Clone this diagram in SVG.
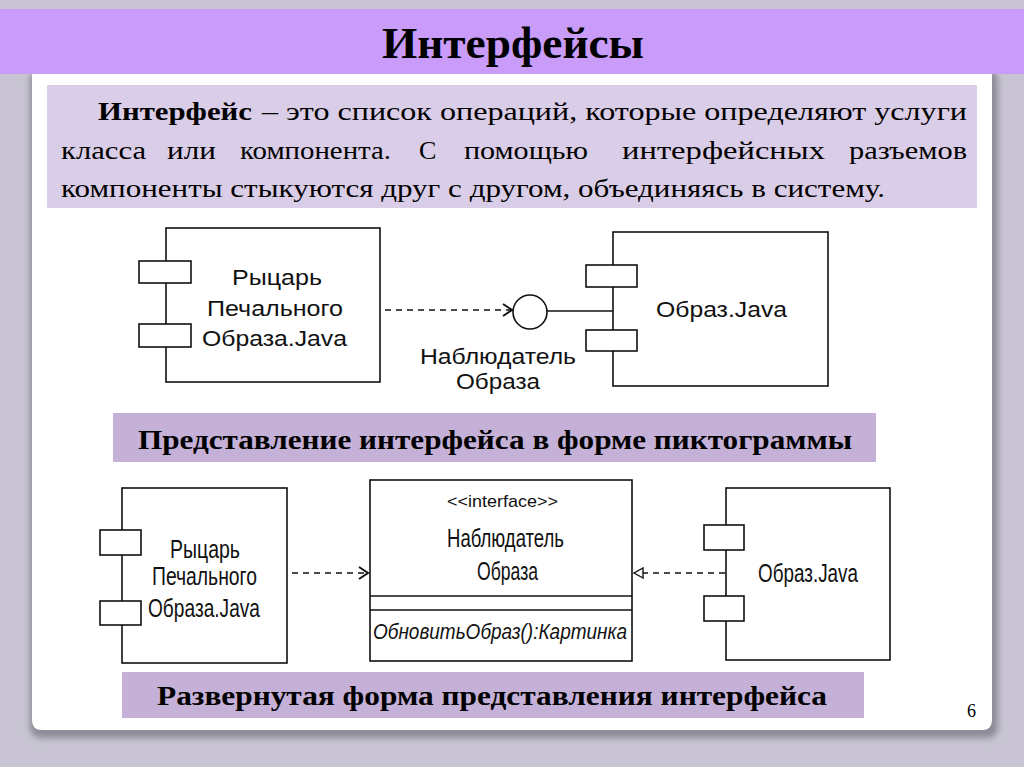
<svg xmlns="http://www.w3.org/2000/svg" width="1024" height="767" viewBox="0 0 1024 767">
<style>
.box{fill:#fff;stroke:#111;stroke-width:1.6}
.tab{fill:#fff;stroke:#111;stroke-width:1.6}
.sans{font-family:"Liberation Sans",Arial,sans-serif;fill:#111}
.serif{font-family:"Liberation Serif","Times New Roman",serif;fill:#000}
.dash{stroke:#111;stroke-width:1.6;stroke-dasharray:6,5;fill:none}
.line{stroke:#111;stroke-width:1.6;fill:none}
</style>
<defs>
<marker id="open" markerUnits="userSpaceOnUse" markerWidth="12" markerHeight="14" refX="10" refY="7" orient="auto">
<path d="M1,1 L10,7 L1,13" fill="none" stroke="#111" stroke-width="2"/>
</marker>
<marker id="tri" markerUnits="userSpaceOnUse" markerWidth="12" markerHeight="12" refX="10" refY="6" orient="auto">
<path d="M1,1 L10,6 L1,11 Z" fill="#fff" stroke="#111" stroke-width="1.4"/>
</marker>
<filter id="sh" x="-5%" y="-5%" width="110%" height="115%">
<feGaussianBlur stdDeviation="3"/>
</filter>
</defs>

<!-- background -->
<rect x="0" y="0" width="1024" height="767" fill="#c8c4d3"/>
<rect x="30" y="70" width="968" height="668" rx="10" fill="#8e8a98" filter="url(#sh)"/>
<path d="M32,74 H992 V720 Q992,730 982,730 H42 Q32,730 32,720 Z" fill="#fff"/>
<rect x="0" y="9" width="1024" height="65" fill="#c99cf9"/>
<text class="serif" x="382" y="58" font-size="44" font-weight="bold" textLength="262" lengthAdjust="spacingAndGlyphs">Интерфейсы</text>

<!-- definition box -->
<rect x="47" y="85" width="930" height="123" fill="#dacde7"/>
<text class="serif" y="120" font-size="26"><tspan x="98" font-weight="bold" textLength="154" lengthAdjust="spacingAndGlyphs">Интерфейс</tspan></text>
<text class="serif" x="262" y="120" font-size="26" textLength="705" lengthAdjust="spacingAndGlyphs">– это список операций, которые определяют услуги</text>
<text class="serif" y="159" font-size="26"><tspan x="61" textLength="85" lengthAdjust="spacingAndGlyphs">класса</tspan><tspan x="167" textLength="49" lengthAdjust="spacingAndGlyphs">или</tspan><tspan x="240" textLength="151" lengthAdjust="spacingAndGlyphs">компонента.</tspan><tspan x="419">С</tspan><tspan x="464" textLength="124" lengthAdjust="spacingAndGlyphs">помощью</tspan><tspan x="622" textLength="203" lengthAdjust="spacingAndGlyphs">интерфейсных</tspan><tspan x="849" textLength="118" lengthAdjust="spacingAndGlyphs">разъемов</tspan></text>
<text class="serif" x="61" y="197" font-size="26" textLength="824" lengthAdjust="spacingAndGlyphs">компоненты стыкуются друг с другом, объединяясь в систему.</text>

<!-- connectors -->
<g id="connectors">
<line class="dash" x1="385" y1="310" x2="512" y2="310" marker-end="url(#open)"/>
<line class="line" x1="547" y1="311" x2="613" y2="311"/>
<line class="dash" x1="292" y1="573" x2="368" y2="573" marker-end="url(#open)"/>
<line class="dash" x1="725" y1="573" x2="634" y2="573" marker-end="url(#tri)"/>
</g>

<!-- top diagram -->
<g id="comp-knight-1">
<rect class="box" x="166" y="228" width="214" height="154"/>
<rect class="tab" x="139" y="261" width="52" height="22"/>
<rect class="tab" x="139" y="324" width="52" height="23"/>
<text class="sans" x="232" y="285" font-size="22" textLength="90" lengthAdjust="spacingAndGlyphs">Рыцарь</text>
<text class="sans" x="207" y="316" font-size="22" textLength="136" lengthAdjust="spacingAndGlyphs">Печального</text>
<text class="sans" x="202" y="346" font-size="22" textLength="145" lengthAdjust="spacingAndGlyphs">Образа.Java</text>
</g>
<g id="iface-lollipop">
<circle cx="530" cy="312" r="17" fill="#fff" stroke="#111" stroke-width="1.6"/>
<text class="sans" x="420" y="364" font-size="22" textLength="156" lengthAdjust="spacingAndGlyphs">Наблюдатель</text>
<text class="sans" x="456" y="389" font-size="22" textLength="84" lengthAdjust="spacingAndGlyphs">Образа</text>
</g>
<g id="comp-image-1">
<rect class="box" x="613" y="232" width="215" height="154"/>
<rect class="tab" x="586" y="265" width="51" height="22"/>
<rect class="tab" x="586" y="330" width="51" height="21"/>
<text class="sans" x="656" y="317" font-size="22" textLength="131" lengthAdjust="spacingAndGlyphs">Образ.Java</text>
</g>

<!-- middle banner -->
<rect x="113" y="413" width="763" height="49" fill="#c5b0d7"/>
<text class="serif" x="138" y="449" font-size="28" font-weight="bold" textLength="714" lengthAdjust="spacingAndGlyphs">Представление интерфейса в форме пиктограммы</text>

<!-- bottom diagram -->
<g id="comp-knight-2">
<rect class="box" x="122" y="488" width="165" height="175"/>
<rect class="tab" x="100" y="530" width="41" height="25"/>
<rect class="tab" x="100" y="601" width="41" height="24"/>
<text class="sans" x="170" y="558" font-size="25" textLength="70" lengthAdjust="spacingAndGlyphs">Рыцарь</text>
<text class="sans" x="152" y="585" font-size="25" textLength="105" lengthAdjust="spacingAndGlyphs">Печального</text>
<text class="sans" x="148" y="617" font-size="25" textLength="112" lengthAdjust="spacingAndGlyphs">Образа.Java</text>
</g>
<g id="iface-class">
<rect class="box" x="370" y="480" width="262" height="181"/>
<line class="line" x1="370" y1="596" x2="632" y2="596" stroke-width="2.2"/>
<line class="line" x1="370" y1="610" x2="632" y2="610"/>
<text class="sans" x="447" y="507" font-size="17" textLength="111" lengthAdjust="spacingAndGlyphs">&lt;&lt;interface&gt;&gt;</text>
<text class="sans" x="447" y="547" font-size="25" textLength="117" lengthAdjust="spacingAndGlyphs">Наблюдатель</text>
<text class="sans" x="477" y="580" font-size="25" textLength="61" lengthAdjust="spacingAndGlyphs">Образа</text>
<text class="sans" x="373" y="639" font-size="22" font-style="italic" textLength="254" lengthAdjust="spacingAndGlyphs">ОбновитьОбраз():Картинка</text>
</g>
<g id="comp-image-2">
<rect class="box" x="726" y="488" width="164" height="172"/>
<rect class="tab" x="704" y="525" width="40" height="25"/>
<rect class="tab" x="704" y="596" width="40" height="25"/>
<text class="sans" x="758" y="582" font-size="25" textLength="100" lengthAdjust="spacingAndGlyphs">Образ.Java</text>
</g>

<!-- bottom banner -->
<rect x="122" y="672" width="742" height="46" fill="#c5b0d7"/>
<text class="serif" x="157" y="705" font-size="28" font-weight="bold" textLength="670" lengthAdjust="spacingAndGlyphs">Развернутая форма представления интерфейса</text>

<text class="serif" x="967" y="717" font-size="18">6</text>
</svg>
